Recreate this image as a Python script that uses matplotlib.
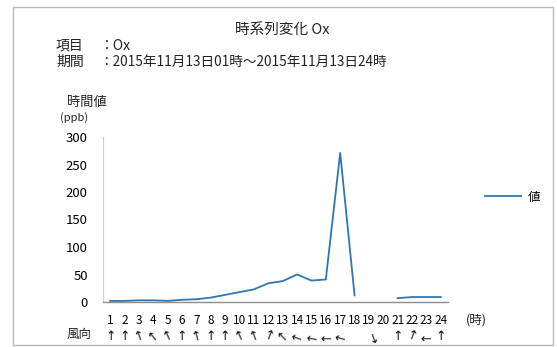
import numpy as np
import matplotlib
matplotlib.use("Agg")
import matplotlib.pyplot as plt
from matplotlib.patches import Rectangle

plt.rcParams['font.family'] = ['Noto Sans CJK JP', 'DejaVu Sans']

hours = list(range(1, 25))
hour_labels = [str(h) for h in hours]
values = [2, 2, 3, 3, 2, 4, 5, 8, 13, 18, 23, 34, 38, 50, 39, 41,
          271, 12, np.nan, np.nan, 7, 9, 9, 9]
# wind direction: rotation (deg, counter-clockwise from "up"); None = no data
wind_angle = [0, 0, 20, 40, 25, 0, 15, 0, 0, 25, 20, -20, 45, 70, 80, 90,
              75, None, -160, None, 0, -20, 90, 0]
yticks = [0, 50, 100, 150, 200, 250, 300]

W, H = 557, 347
fig = plt.figure(figsize=(W / 100, H / 100), dpi=100)

def fx(px):
    return px / W

def fy(py):
    return 1 - py / H

# outer frame
fig.patches.append(Rectangle((fx(13), fy(345)), fx(553) - fx(13), fy(7) - fy(345),
                             transform=fig.transFigure, fill=False,
                             edgecolor='#b8b8b8', linewidth=1.0))

ax = fig.add_axes([fx(103), fy(302), fx(448) - fx(103), fy(137) - fy(302)])
line, = ax.plot(hours, values, color='#2e75b6', linewidth=1.3, label='値')
ax.set_xlim(0.5, 24.5)
ax.set_ylim(0, 300)
ax.set_yticks(yticks)
ax.set_yticklabels([str(v) for v in yticks], fontsize=9.5)
ax.set_xticks(hours)
ax.set_xticklabels(hour_labels, fontsize=8.5)
ax.tick_params(axis='y', length=0, pad=11)
ax.tick_params(axis='x', length=0, pad=9)
for s in ['top', 'right']:
    ax.spines[s].set_visible(False)
ax.spines['left'].set_color('#d0d0d0')
ax.spines['bottom'].set_color('#8c8c8c')
ax.spines['left'].set_linewidth(0.8)
ax.spines['bottom'].set_linewidth(1.0)

# wind arrows
for h, ang in zip(hours, wind_angle):
    if ang is None:
        continue
    ax.annotate('↑', xy=(h, 0), xycoords=('data', 'axes fraction'),
                xytext=(0, -24.5), textcoords='offset points',
                ha='center', va='center', rotation=ang, fontsize=9,
                color='#111111', family=['DejaVu Sans'])

fig.text(fx(67), fy(334), '風向', fontsize=9, va='center', ha='left', color='#222222')
fig.text(fx(466), fy(320), '(時)', fontsize=9, va='center', ha='left', color='#222222')

# titles
fig.text(fx(282), fy(30), '時系列変化 Ox', fontsize=10.5, ha='center', va='center', color='#222222')
fig.text(fx(56), fy(46), '項目', fontsize=10, ha='left', va='center', color='#222222')
fig.text(fx(99), fy(46), '：Ox', fontsize=10, ha='left', va='center', color='#222222')
fig.text(fx(56), fy(62), '期間', fontsize=10, ha='left', va='center', color='#222222')
fig.text(fx(99), fy(62), '：2015年11月13日01時～2015年11月13日24時', fontsize=9.8,
         ha='left', va='center', color='#222222')

# y label
fig.text(fx(67), fy(102), '時間値', fontsize=9.5, ha='left', va='center', color='#222222')
fig.text(fx(60), fy(118), '(ppb)', fontsize=8, ha='left', va='center', color='#222222')

fig.legend(handles=[line], labels=['値'], loc='center left',
           bbox_to_anchor=(fx(485), fy(197)), frameon=False, fontsize=9,
           handlelength=2.9, handletextpad=0.5, borderpad=0, borderaxespad=0)

fig.savefig('out.png', dpi=100)
